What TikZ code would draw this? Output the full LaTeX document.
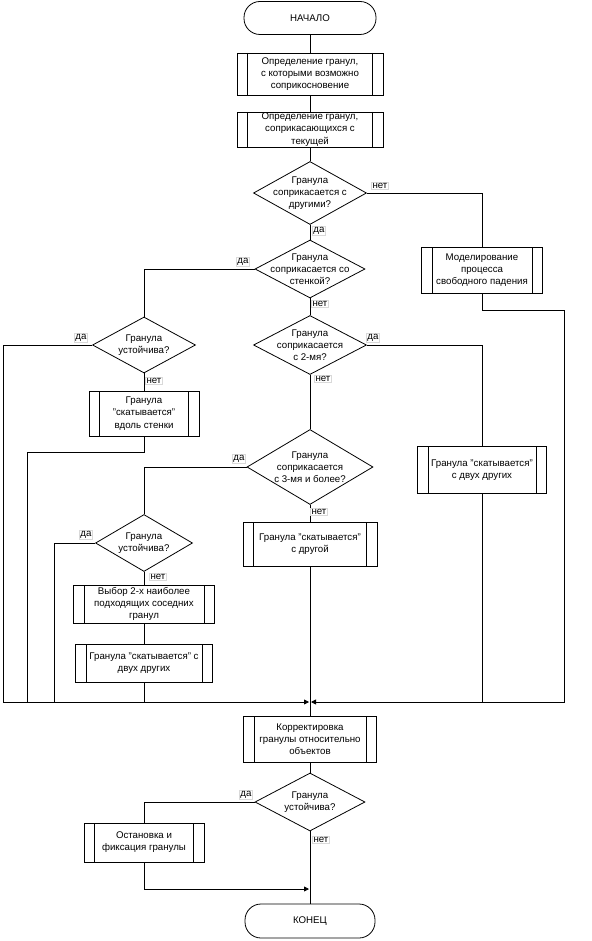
\documentclass[tikz,border=0pt]{standalone}
\usepackage{fontspec}
\setmainfont{Liberation Sans}
\usetikzlibrary{shapes.geometric,arrows.meta}
\begin{document}
\begin{tikzpicture}[x=1pt,y=-1pt, line width=0.8pt,
  every node/.style={font=\fontsize{9.7}{12.2}\selectfont},
  term/.style={draw, rounded corners=16pt, minimum width=#1, minimum height=33pt, inner sep=0},
  proc/.style n args={2}{draw, minimum width=#1, minimum height=#2, inner sep=0, align=center,
    path picture={\draw[line width=0.8pt]
      ([xshift=10.5pt]path picture bounding box.north west) -- ([xshift=10.5pt]path picture bounding box.south west)
      ([xshift=-10.5pt]path picture bounding box.north east) -- ([xshift=-10.5pt]path picture bounding box.south east);}},
  diam/.style n args={2}{draw, shape=diamond, minimum width=#1, minimum height=#2, inner sep=0},
  dtext/.style={align=center, inner sep=0},
  lbl/.style={fill=white, draw=black!15, line width=0.4pt, inner sep=1pt},
  arr/.style={-{Triangle[length=5pt,width=5pt]}}]
\useasboundingbox (0,0) rectangle (591,941);

% main column
\node[term=132pt] (start) at (310,18) {НАЧАЛО};
\node[proc={146pt}{42pt}] (p1) at (310,74) {Определение гранул,\\с которыми возможно\\соприкосновение};
\node[proc={146pt}{35pt}] (p2) at (310,129.5) {Определение гранул,\\соприкасающихся с\\текущей};
\node[diam={113pt}{63pt}, label={[dtext]center:{Гранула\\соприкасается с\\другими?}}] (d1) at (310,193) {};
\node[diam={110pt}{58pt}, label={[dtext]center:{Гранула\\соприкасается со\\стенкой?}}] (d2) at (310,269) {};
\node[diam={113pt}{59pt}, label={[dtext]center:{Гранула\\соприкасается\\с 2-мя?}}] (d3) at (310,345) {};
\node[diam={126pt}{75pt}, label={[dtext]center:{Гранула\\соприкасается\\с 3-мя и более?}}] (d4) at (310,467) {};
\node[proc={134pt}{44pt}] (p5) at (310,544) {Гранула "скатывается"\\с другой};
\node[proc={133pt}{46pt}] (corr) at (310,739) {Корректировка\\гранулы относительно\\объектов};
\node[diam={110pt}{58pt}, label={[dtext]center:{Гранула\\устойчива?}}] (d7) at (310,802) {};
\node[term=130pt, minimum height=34pt] (end) at (310,921) {КОНЕЦ};

% right column
\node[proc={121pt}{46pt}] (pm) at (482,270) {Моделирование\\процесса\\свободного падения};
\node[proc={129pt}{47pt}] (p4) at (482,470) {Гранула "скатывается"\\с двух других};

% left column
\node[diam={103pt}{56pt}, label={[dtext]center:{Гранула\\устойчива?}}] (l1) at (144,345) {};
\node[proc={110pt}{45pt}] (pl1) at (144,413.5) {Гранула\\"скатывается"\\вдоль стенки};
\node[diam={97pt}{57pt}, label={[dtext]center:{Гранула\\устойчива?}}] (l2) at (144,543) {};
\node[proc={141pt}{38pt}] (sel) at (144,604) {Выбор 2-х наиболее\\подходящих соседних\\гранул};
\node[proc={137pt}{38pt}] (roll) at (144,663) {Гранула "скатывается" с\\двух других};
\node[proc={120pt}{39pt}] (stop) at (144,842.5) {Остановка и\\фиксация гранулы};

% coordinates
\coordinate (mL) at (309,702);
\coordinate (mR) at (311,702);
\coordinate (cR1) at (564,310);
\coordinate (cR2) at (564,702);
\coordinate (cL1) at (3,702);
\coordinate (cL2) at (27,452);
\coordinate (cL3) at (54,702);
\coordinate (mE) at (309,889);

% connectors
\draw (start) -- (p1) -- (p2) -- (d1) -- (d2) -- (d3) -- (d4) -- (p5) -- (corr) -- (d7) -- (end);
\draw (d1.east) -| (pm.north);
\draw[arr] (pm.south) |- (cR1) -- (cR2) -- (mR);
\draw (d3.east) -| (p4.north);
\draw (p4.south) -- (p4.south |- mR);
\draw (d2.west) -| (l1.north);
\draw[arr] (l1.west) -| (cL1) -- (mL);
\draw (l1) -- (pl1);
\draw (pl1.south) |- (cL2) -- (cL2 |- mL);
\draw (d4.west) -| (l2.north);
\draw (l2.west) -| (cL3);
\draw (l2) -- (sel) -- (roll);
\draw (roll.south) -- (roll.south |- mL);
\draw (d7.west) -| (stop.north);
\draw[arr] (stop.south) |- (mE);

% labels
\node[lbl] (t1) at (380,186) {нет};
\node[lbl] (t2) at (319,231) {да};
\node[lbl] (t3) at (243,262) {да};
\node[lbl] (t4) at (320,304) {нет};
\node[lbl] (t5) at (373,338) {да};
\node[lbl] (t6) at (323,379) {нет};
\node[lbl] (t7) at (81,338) {да};
\node[lbl] (t8) at (154,381) {нет};
\node[lbl] (t9) at (239,459) {да};
\node[lbl] (t10) at (319,512) {нет};
\node[lbl] (t11) at (86,535) {да};
\node[lbl] (t12) at (158,577) {нет};
\node[lbl] (t13) at (246,795) {да};
\node[lbl] (t14) at (321,840) {нет};
\end{tikzpicture}
\end{document}
